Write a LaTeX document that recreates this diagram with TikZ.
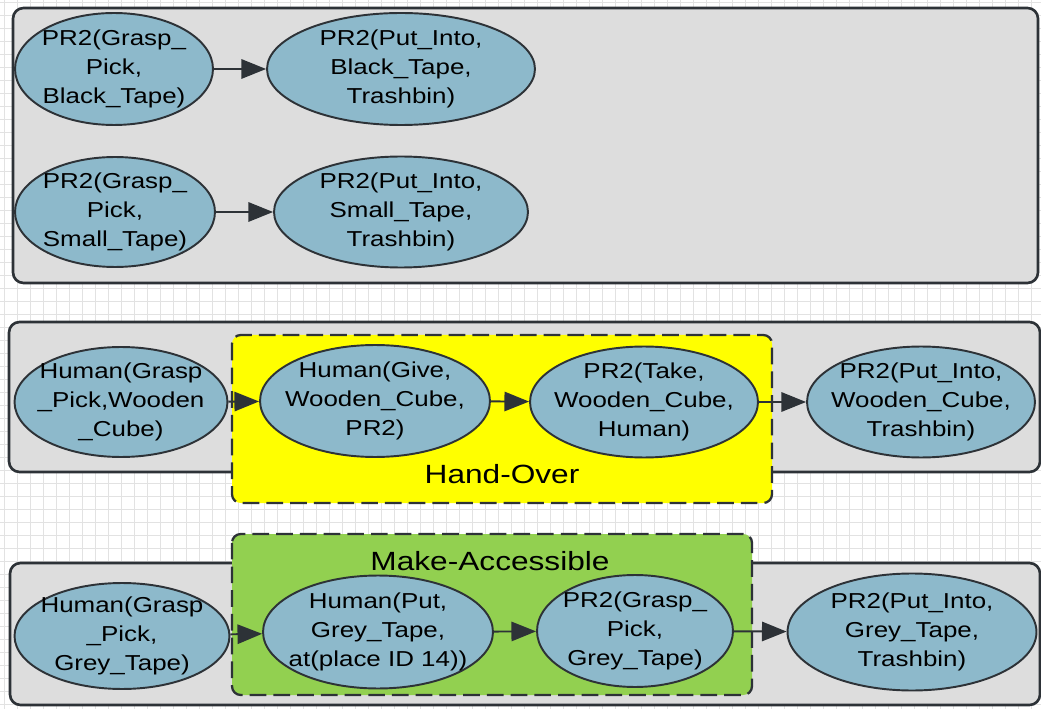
\documentclass[tikz,border=0pt]{standalone}
\usepackage{fontspec}
\setmainfont{Liberation Sans}[FakeStretch=1.2]
\usetikzlibrary{shapes.geometric,arrows.meta}
\definecolor{panelgray}{RGB}{221,221,221}
\definecolor{actblue}{RGB}{141,185,203}
\definecolor{edgedark}{RGB}{45,50,55}
\definecolor{handyellow}{RGB}{255,255,0}
\definecolor{accgreen}{RGB}{146,208,80}
\definecolor{gridgray}{RGB}{226,226,226}
\tikzset{
  gridline/.style={draw=gridgray, line width=0.4pt},
  panel/.style={draw=edgedark, line width=1.5pt, fill=panelgray, rounded corners=6pt},
  groupbox/.style={draw=edgedark, line width=1.3pt, dash pattern=on 9.5pt off 4pt, rounded corners=5pt},
  act/.style={ellipse, draw=edgedark, line width=1.1pt, fill=actblue, inner sep=0pt},
  acttext/.style={align=center, inner sep=0pt, font=\fontsize{12.3pt}{16.5pt}\selectfont},
  grouplabel/.style={anchor=base, inner sep=0pt, font=\fontsize{15pt}{18pt}\selectfont},
  flow/.style={draw=edgedark, line width=1.1pt, -{Triangle[length=14pt,width=11pt]}}
}
\begin{document}
\begin{tikzpicture}[x=0.02cm, y=-0.02cm]
  \fill[white] (0,0) rectangle (1041,709);
  \useasboundingbox (0,0) rectangle (1041,709);
  % page grid
  \foreach \gx in {4,17,...,1041} { \draw[gridline] (\gx,0) -- (\gx,709); }
  \foreach \gy in {2,15,...,709} { \draw[gridline] (0,\gy) -- (1041,\gy); }

  % panels
  \draw[panel] (13,8) rectangle (1038,283);
  \draw[panel] (9,322) rectangle (1040,472);
  \draw[panel] (10,563) rectangle (1040,705);

  % group boxes
  \draw[groupbox, fill=handyellow] (232,335) rectangle (772,503);
  \draw[groupbox, fill=accgreen] (232,534) rectangle (752,695);
  \node[grouplabel] (hand) at (502,483) {Hand-Over};
  \node[grouplabel] (make) at (490,570) {Make-Accessible};

  % actions
  \node[act, minimum width=3.96cm, minimum height=2.24cm, label={[acttext]center:{PR2(Grasp\_\\Pick,\\Black\_Tape)}}] (e1) at (114,69) {};
  \node[act, minimum width=5.36cm, minimum height=2.24cm, label={[acttext]center:{PR2(Put\_Into,\\Black\_Tape,\\Trashbin)}}] (e2) at (401,69) {};
  \node[act, minimum width=4.0cm, minimum height=2.2cm, label={[acttext]center:{PR2(Grasp\_\\Pick,\\Small\_Tape)}}] (e3) at (115,212) {};
  \node[act, minimum width=5.08cm, minimum height=2.22cm, label={[acttext]center:{PR2(Put\_Into,\\Small\_Tape,\\Trashbin)}}] (e4) at (401,212) {};

  \node[act, minimum width=4.26cm, minimum height=2.2cm, label={[acttext]center:{Human(Grasp\\\_Pick,Wooden\\\_Cube)}}] (e5) at (121,402) {};
  \node[act, minimum width=4.6cm, minimum height=2.24cm, label={[acttext]center:{Human(Give,\\Wooden\_Cube,\\PR2)}}] (e6) at (375,401) {};
  \node[act, minimum width=4.56cm, minimum height=2.22cm, label={[acttext]center:{PR2(Take,\\Wooden\_Cube,\\Human)}}] (e7) at (644,402) {};
  \node[act, minimum width=4.56cm, minimum height=2.22cm, label={[acttext]center:{PR2(Put\_Into,\\Wooden\_Cube,\\Trashbin)}}] (e8) at (921,402) {};

  \node[act, minimum width=4.3cm, minimum height=2.12cm, label={[acttext]center:{Human(Grasp\\\_Pick,\\Grey\_Tape)}}] (e9) at (122,636) {};
  \node[act, minimum width=4.6cm, minimum height=2.26cm, label={[acttext]center:{Human(Put,\\Grey\_Tape,\\at(place ID 14))}}] (e10) at (378,632) {};
  \node[act, minimum width=3.92cm, minimum height=2.24cm, label={[acttext]center:{PR2(Grasp\_\\Pick,\\Grey\_Tape)}}] (e11) at (635,631) {};
  \node[act, minimum width=4.98cm, minimum height=2.34cm, label={[acttext]center:{PR2(Put\_Into,\\Grey\_Tape,\\Trashbin)}}] (e12) at (912,632) {};

  % connectors
  \draw[flow] (e1) -- (e2);
  \draw[flow] (e3) -- (e4);
  \draw[flow] (e5) -- (e6);
  \draw[flow] (e6) -- (e7);
  \draw[flow] (e7) -- (e8);
  \draw[flow] (e9) -- (e10);
  \draw[flow] (e10) -- (e11);
  \draw[flow] (e11) -- (e12);
\end{tikzpicture}
\end{document}
